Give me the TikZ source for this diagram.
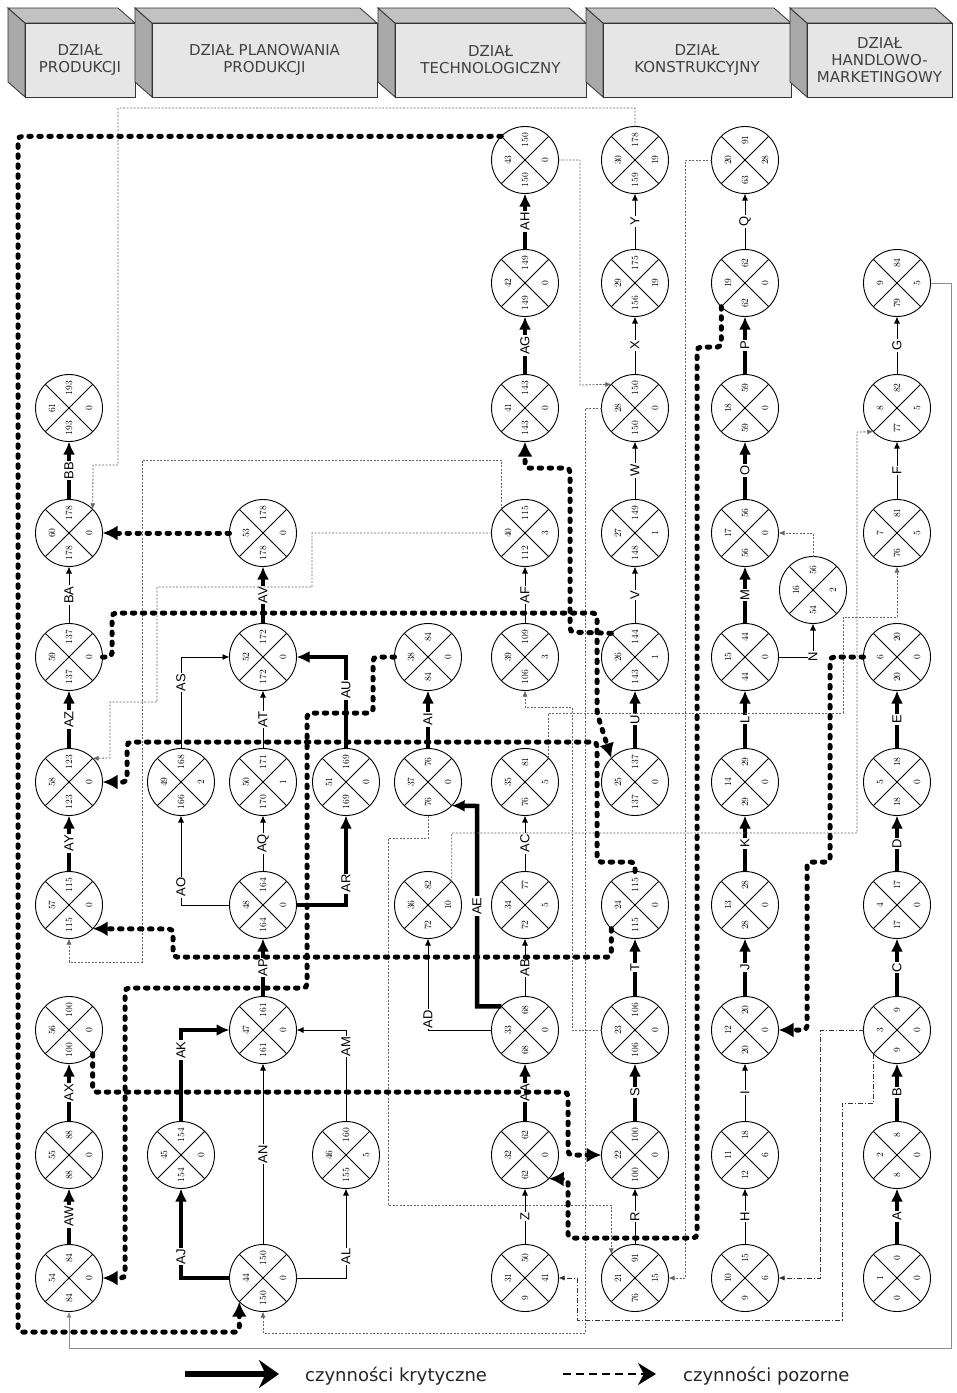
\documentclass[tikz,border=0pt]{standalone}
\usepackage{fontspec}
\usetikzlibrary{arrows.meta}
\newfontfamily\lab{Liberation Sans}
\newfontfamily\dz{DejaVu Sans}
\definecolor{dzprzod}{HTML}{E6E6E6}
\definecolor{dzgora}{HTML}{C2C2C2}
\definecolor{dzbok}{HTML}{A9A9A9}
\tikzstyle{zd}=[shape=circle, minimum size=67pt, inner sep=0, outer sep=0, draw, line width=.9pt, fill=white]
\tikzstyle{nr}=[rotate=90, inner sep=0, font=\fontsize{9.5}{10}\selectfont]
\tikzstyle{lit}=[rotate=90, inner sep=1pt, fill=white, font=\lab\fontsize{13}{13}\selectfont]
\tikzstyle{kr}=[line width=4.5pt, -{Latex[length=13pt,width=12pt]}]
\tikzstyle{zw}=[line width=.9pt, -{Latex[length=7pt,width=6pt]}]
\tikzstyle{poz}=[line width=5pt, dash pattern=on 2.5pt off 7.5pt, line cap=round, rounded corners=4pt, -{Latex[length=15pt,width=15pt]}]
\tikzstyle{pozc}=[line width=.8pt, black!60, dash pattern=on 2pt off 1.5pt, -{Latex[length=6pt,width=5pt]}]
\tikzstyle{kropka}=[line width=.8pt, black!80, dash pattern=on 5pt off 2pt on 1pt off 2pt, -{Latex[length=6pt,width=5pt]}]
\tikzstyle{szara}=[line width=1pt, black!45, -{Latex[length=6pt,width=5pt]}]
\tikzstyle{ramka}=[draw=black!80, line width=.8pt]
\tikzstyle{dztekst}=[align=center, text=black!75, font=\dz\fontsize{15}{17}\selectfont]
\tikzstyle{leg}=[inner sep=0, font=\dz\fontsize{18}{18}\selectfont, text=black!85]
\newcommand{\dzial}[4]{%
  \filldraw[ramka, fill=dzbok] (#2-17,8) -- (#2,23) -- (#2,97) -- (#2-17,82) -- cycle;
  \filldraw[ramka, fill=dzgora] (#2-17,8) -- (#3-17,8) -- (#3,23) -- (#2,23) -- cycle;
  \filldraw[ramka, fill=dzprzod] (#2,23) rectangle (#3,97);
  \node[dztekst] (#1) at ({(#2+#3)/2},60) {#4};
}

\begin{document}
\begin{tikzpicture}[x=1pt, y=-1pt]
\fill[white] (0,0) rectangle (957,1393);
\useasboundingbox (0,0) rectangle (957,1393);
\dzial{h1}{25}{135}{DZIAŁ\\PRODUKCJI}
\dzial{h2}{152}{377}{DZIAŁ PLANOWANIA\\PRODUKCJI}
\dzial{h3}{395}{586}{DZIAŁ\\TECHNOLOGICZNY}
\dzial{h4}{603}{791}{DZIAŁ\\KONSTRUKCYJNY}
\dzial{h5}{807}{952}{DZIAŁ\\HANDLOWO-\\MARKETINGOWY}
\foreach \nn/\xx/\yy/\ta/\tb/\tc in {61/69/408/193/0/193, 60/69/533/178/0/178, 59/69/657/137/0/137,
  58/69/782/123/0/123, 57/69/905/115/0/115, 56/69/1030/100/0/100, 55/69/1155/88/0/88, 54/69/1278/84/0/84,
  49/181/782/168/2/166, 45/181/1155/154/0/154,
  53/263/533/178/0/178, 52/263/657/172/0/172, 50/263/782/171/1/170, 48/263/905/164/0/164,
  47/263/1030/161/0/161, 44/263/1278/150/0/150,
  51/346/782/169/0/169, 46/346/1155/160/5/155,
  38/428/657/84/0/84, 37/428/782/76/0/76, 36/428/905/82/10/72,
  43/525/160/150/0/150, 42/525/283/149/0/149, 41/525/408/143/0/143, 40/525/533/115/3/112,
  39/525/657/109/3/106, 35/525/782/81/5/76, 34/525/905/77/5/72, 33/525/1030/68/0/68,
  32/525/1155/62/0/62, 31/525/1278/50/41/9,
  30/635/160/178/19/159, 29/635/283/175/19/156, 28/635/408/150/0/150, 27/635/533/149/1/148,
  26/635/657/144/1/143, 25/635/782/137/0/137, 24/635/905/115/0/115, 23/635/1030/106/0/106,
  22/635/1155/100/0/100, 21/635/1278/91/15/76,
  20/745/160/91/28/63, 19/745/283/62/0/62, 18/745/408/59/0/59, 17/745/533/56/0/56,
  16/813/590/56/2/54, 15/745/657/44/0/44, 14/745/782/29/0/29, 13/745/905/28/0/28,
  12/745/1030/20/0/20, 11/745/1155/18/6/12, 10/745/1278/15/6/9,
  9/897/283/84/5/79, 8/897/408/82/5/77, 7/897/533/81/5/76, 6/897/657/20/0/20,
  5/897/782/18/0/18, 4/897/905/17/0/17, 3/897/1030/9/0/9, 2/897/1155/8/0/8, 1/897/1278/0/0/0} {
  \node at (\xx,\yy)[zd](n\nn){};
  \draw[line width=.9pt] (n\nn.45)--(n\nn.225) (n\nn.135)--(n\nn.315);
  \node at (\xx-17,\yy)[nr](n\nn-a){\nn};
  \node at (\xx,\yy-20)[nr](n\nn-b){\ta};
  \node at (\xx+20,\yy)[nr](n\nn-c){\tb};
  \node at (\xx,\yy+20)[nr](n\nn-d){\tc};
}
% czynnosci krytyczne
\foreach \a/\b/\l in {1/2/A, 2/3/B, 3/4/C, 4/5/D, 5/6/E, 12/13/J, 13/14/K, 14/15/L, 15/17/M, 17/18/O,
  18/19/P, 22/23/S, 23/24/T, 25/26/U, 32/33/AA, 41/42/AG, 42/43/AH, 37/38/AI, 47/48/AP, 52/53/AV,
  54/55/AW, 55/56/AX, 57/58/AY, 58/59/AZ, 60/61/BB} {\draw[kr] (n\a) -- node[lit](l\l){\l} (n\b);}
\draw[kr] (n44.west) -| node[lit, pos=.62](lAJ){AJ} (n45.south);
\draw[kr] (n45.north) |- node[lit, pos=.39](lAK){AK} (n47.west);
\draw[kr] (n48.east) -| node[lit, pos=.62](lAR){AR} (n51.south);
\draw[kr] (n51.north) |- node[lit, pos=.32](lAU){AU} (n52.east);
\draw[kr] (n33.135) -| node[lit, pos=.75](lAE){AE} (477,806) -- (n37.-45);
% czynnosci zwykle
\foreach \a/\b/\l in {7/8/F, 8/9/G, 10/11/H, 11/12/I, 19/20/Q, 21/22/R, 26/27/V, 27/28/W, 28/29/X,
  29/30/Y, 31/32/Z, 33/34/AB, 34/35/AC, 39/40/AF, 44/47/AN, 48/50/AQ, 50/52/AT, 59/60/BA}
  {\draw[zw] (n\a) -- node[lit](l\l){\l} (n\b);}
\draw[zw] (n44.east) -| node[lit, pos=.62](lAL){AL} (n46.south);
\draw[zw] (n46.north) |- node[lit, pos=.41](lAM){AM} (n47.east);
\draw[zw] (n48.west) -| node[lit, pos=.6](lAO){AO} (n49.south);
\draw[zw] (n49.north) |- node[lit, pos=.36](lAS){AS} (n52.west);
\draw[zw] (n33.west) -| node[lit, pos=.56](lAD){AD} (n36.south);
\draw[zw] (n15.east) -| node[lit, pos=.5](lN){N} (n16.south);
% czynnosci pozorne
\draw[pozc] (n30.north) -- (635,108) -- (118,108) -- (118,465) -- (93,465) -- (n60.45);
\draw[pozc] (n43.east) -- (580,160) -- (580,385) -- (n28.135);
\draw[pozc] (n28.west) -- (585,408) -- (585,1333) -| (n44.south);
\draw[pozc] (n40.135) |- (142,460) -- (142,962) -| (n57.south);
\draw[pozc] (n40.west) -- (312,533) -- (312,587) -- (157,587) -- (157,702) -- (110,702) -- (110,758) -- (n58.45);
\draw[pozc] (n16.north) |- (n17.east);
\draw[pozc] (n35.45) |- (843,713) |- (897,617) -- (n7.south);
\draw[pozc] (n36.45) |- (857,833) -- (857,432) -- (n8.-135);
\draw[pozc] (n37.south) -- (428,838) -- (388,838) -- (388,1205) -| (n21.135);
\draw[pozc] (n23.west) -- (572,1030) -- (572,707) -| (n39.south);
\draw[pozc] (n20.west) -- (685,160) |- (n21.east);
\draw[kropka] (n3.west) -- (820,1030) |- (n10.east);
\draw[kropka] (n3.-135) |- (842,1103) |- (577,1320) |- (n31.east);
\draw[szara] (n9.east) -- (951,283) -- (951,1348) -| (n54.south);
\draw[poz] (n43.135) -| (18,1332) -| (n44.-135);
\draw[poz] (n53) -- (n60);
\draw[poz] (n38.west) -- (373,657) -- (373,713) -- (307,713) -- (307,988) -- (125,988) |- (n54.east);
\draw[poz] (n56.-45) |- (568,1092) |- (n22.west);
\draw[poz] (n24.-135) |- (173,957) -- (173,929) -- (n57.-45);
\draw[poz] (n59.east) -- (112,657) -- (112,613) -- (597,613) -- (597,713) -- (n25.135);
\draw[poz] (n24.north) -- (635,862) -- (597,862) -- (597,742) -- (127,742) -- (127,782) -- (n58.east);
\draw[poz] (n26.135) -- (570,632) -- (570,468) -- (525,468) -- (n41.south);
\draw[poz] (n19.-135) |- (697,347) -- (697,1238) -- (568,1238) -- (568,1179) -- (n32.-45);
\draw[poz] (n6.west) -- (830,657) -- (830,862) -- (807,862) -- (807,1030) -- (n12.east);
% legenda
\coordinate (k1) at (185,1374);
\coordinate (k2) at (279,1374);
\draw[line width=5.5pt, -{Stealth[length=20pt,width=28pt]}] (k1) -- (k2);
\node[leg, anchor=base west] (tk) at (305,1381) {czynności krytyczne};
\coordinate (p1) at (563,1374);
\coordinate (p2) at (656,1374);
\draw[line width=2.5pt, dash pattern=on 8pt off 5pt, -{Stealth[length=18pt,width=22pt]}] (p1) -- (p2);
\node[leg, anchor=base west] (tp) at (683,1381) {czynności pozorne};
\end{tikzpicture}
\end{document}
